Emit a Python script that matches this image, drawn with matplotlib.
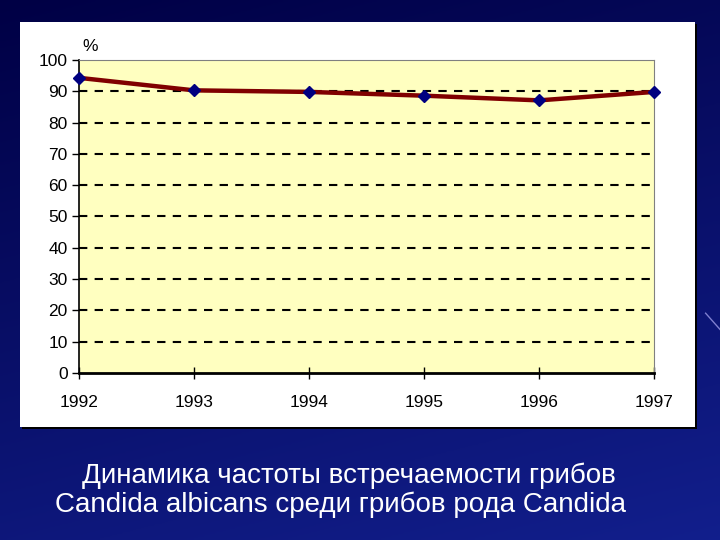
import numpy as np
import matplotlib.pyplot as plt

years = [1992, 1993, 1994, 1995, 1996, 1997]
freq = [94.3, 90.3, 89.8, 88.6, 87.1, 89.8]
yticks = list(range(0, 101, 10))
caption1 = "Динамика частоты встречаемости грибов"
caption2 = "Candida albicans среди грибов рода Candida"

plt.rcParams['font.family'] = ['Liberation Sans', 'DejaVu Sans']

fig = plt.figure(figsize=(7.2, 5.4), dpi=100)

# slide background: dark blue gradient
bg = fig.add_axes([0, 0, 1, 1], zorder=0)
gy, gx = np.mgrid[0:1:200j, 0:1:200j]
t = 0.75 * gy + 0.25 * gx
top = np.array([0.0, 0.0, 0.27])
bot = np.array([0.07, 0.12, 0.55])
img = top[None, None, :] * (1 - t[..., None]) + bot[None, None, :] * t[..., None]
bg.imshow(img, extent=[0, 1, 0, 1], aspect='auto', origin='upper')
bg.plot([0.98, 1.0], [0.42, 0.39], color='#8080d0', lw=1)
bg.set_xlim(0, 1)
bg.set_ylim(0, 1)
bg.axis('off')

# white chart panel with dark shadow
fig.patches.append(plt.Rectangle((0.0305, 0.206), 0.9375, 0.75, transform=fig.transFigure,
                                 facecolor='black', zorder=1))
fig.patches.append(plt.Rectangle((0.0278, 0.2093), 0.9375, 0.75, transform=fig.transFigure,
                                 facecolor='white', zorder=1))

ax = fig.add_axes([0.1097, 0.3093, 0.7986, 0.5796], zorder=2)
ax.set_facecolor('#ffffc0')

for v in yticks[1:-1]:
    ax.axhline(v, color='black', lw=1.5, ls=(0, (4, 3.5)), zorder=1)

ax.plot(years, freq, color='#800000', lw=3.2, zorder=3, clip_on=False)
ax.plot(years, freq, ls='none', marker='D', ms=6, color='#000080', zorder=4, clip_on=False)

ax.set_xlim(1992, 1997)
ax.set_ylim(0, 100)
ax.set_yticks(yticks)
ax.set_xticks(years)
ax.tick_params(axis='y', direction='out', length=5, width=1, labelsize=12.5, pad=3)
ax.tick_params(axis='x', direction='inout', length=8, width=1, labelsize=12.5, pad=12)

ax.spines['left'].set_color('black')
ax.spines['left'].set_linewidth(1.2)
ax.spines['bottom'].set_color('black')
ax.spines['bottom'].set_linewidth(2)
ax.spines['top'].set_color('#808080')
ax.spines['right'].set_color('#808080')

fig.text(0.125, 0.9, '%', fontsize=12.5, ha='center', va='bottom', zorder=3)

fig.text(0.114, 0.105, caption1, fontsize=20, color='white', ha='left', va='baseline')
fig.text(0.076, 0.052, caption2, fontsize=20, color='white', ha='left', va='baseline')

fig.savefig('out.png', dpi=100)
